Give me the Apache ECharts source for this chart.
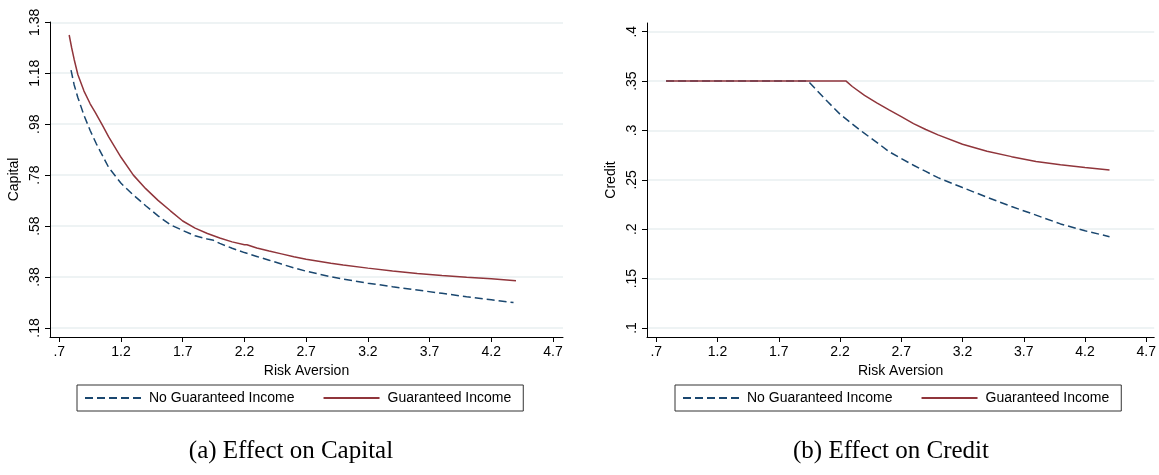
<!DOCTYPE html>
<html>
<head>
<meta charset="utf-8">
<script src="https://cdn.jsdelivr.net/npm/echarts@6/dist/echarts.min.js"></script>
<style>
  html, body { margin: 0; padding: 0; background: #fff; }
  #chart { width: 1159px; height: 475px; }
</style>
</head>
<body>
<div id="chart"></div>
<script>
// 风险厌恶 vs 资本 (a)
const capGiX = [0.78, 0.80, 0.82, 0.85, 0.90, 0.95, 0.99, 1.00, 1.05, 1.10, 1.20, 1.30, 1.40, 1.50, 1.60, 1.70, 1.80, 1.90, 2.00, 2.10, 2.20, 2.22, 2.30, 2.40, 2.50, 2.60, 2.70, 2.80, 2.90, 3.00, 3.20, 3.40, 3.60, 3.80, 4.00, 4.20, 4.40];
const capGi = [1.33, 1.28, 1.235, 1.175, 1.11, 1.06, 1.027, 1.022, 0.975, 0.93, 0.85, 0.78, 0.727, 0.681, 0.640, 0.600, 0.572, 0.551, 0.533, 0.518, 0.507, 0.507, 0.494, 0.482, 0.471, 0.460, 0.450, 0.442, 0.434, 0.427, 0.415, 0.404, 0.394, 0.386, 0.379, 0.373, 0.365];
const capNoX = [0.795, 0.82, 0.85, 0.90, 0.95, 1.00, 1.10, 1.20, 1.30, 1.40, 1.50, 1.60, 1.70, 1.80, 1.90, 1.95, 2.00, 2.10, 2.20, 2.30, 2.40, 2.50, 2.60, 2.70, 2.80, 2.90, 3.00, 3.20, 3.40, 3.60, 3.80, 4.00, 4.20, 4.38];
const capNo = [1.192, 1.135, 1.085, 1.015, 0.955, 0.903, 0.81, 0.748, 0.702, 0.660, 0.620, 0.585, 0.563, 0.542, 0.529, 0.524, 0.512, 0.493, 0.476, 0.461, 0.446, 0.431, 0.416, 0.403, 0.392, 0.381, 0.372, 0.356, 0.342, 0.329, 0.316, 0.303, 0.291, 0.280];

// 风险厌恶 vs 信贷 (b)
const credGiX = [0.78, 2.25, 2.30, 2.40, 2.50, 2.60, 2.70, 2.80, 2.90, 3.00, 3.20, 3.40, 3.60, 3.80, 4.00, 4.20, 4.40];
const credGi = [0.35, 0.35, 0.3445, 0.3355, 0.328, 0.3208, 0.314, 0.307, 0.301, 0.2955, 0.286, 0.279, 0.2735, 0.2685, 0.2652, 0.2625, 0.26];
const credNoX = [0.78, 1.94, 2.00, 2.10, 2.20, 2.30, 2.40, 2.50, 2.60, 2.70, 2.80, 2.90, 3.00, 3.20, 3.40, 3.60, 3.80, 4.00, 4.20, 4.40];
const credNo = [0.35, 0.35, 0.342, 0.329, 0.3165, 0.3065, 0.297, 0.288, 0.2786, 0.2715, 0.2648, 0.2585, 0.2522, 0.2422, 0.2324, 0.223, 0.2143, 0.2054, 0.1984, 0.1925];

// 刻度
const xTicks = [0.7, 1.2, 1.7, 2.2, 2.7, 3.2, 3.7, 4.2, 4.7];
const capTicks = [0.18, 0.38, 0.58, 0.78, 0.98, 1.18, 1.38];
const credTicks = [0.1, 0.15, 0.2, 0.25, 0.3, 0.35, 0.4];

const seriesNames = ['No Guaranteed Income', 'Guaranteed Income'];
const captions = ['(a) Effect on Capital', '(b) Effect on Credit'];

const BLUE = '#1a476f';
const RED = '#90353b';
const FONT = 'Liberation Sans, Arial, sans-serif';

function pairs(xs, ys) {
  return xs.map((x, i) => [x, ys[i]]);
}
function stataFmt(v) {
  return String(v).replace(/^0\./, '.');
}

function xAxisCfg(idx, min, max) {
  return {
    type: 'value',
    gridIndex: idx,
    min: min,
    max: max,
    name: 'Risk Aversion',
    nameLocation: 'middle',
    nameGap: 22,
    nameTextStyle: { color: '#000', fontSize: 14, fontFamily: FONT },
    axisLine: { show: true, lineStyle: { color: '#000', width: 1 } },
    axisTick: { show: true, length: 5, customValues: xTicks, lineStyle: { color: '#000' } },
    axisLabel: { customValues: xTicks, formatter: stataFmt, color: '#000', fontSize: 14, fontFamily: FONT, margin: 8 },
    splitLine: { show: false }
  };
}

function yAxisCfg(idx, min, max, ticks, name) {
  return {
    type: 'value',
    gridIndex: idx,
    min: min,
    max: max,
    name: name,
    nameLocation: 'middle',
    nameGap: 29,
    nameRotate: 90,
    nameTextStyle: { color: '#000', fontSize: 14, fontFamily: FONT },
    axisLine: { show: true, lineStyle: { color: '#000', width: 1 } },
    axisTick: { show: true, length: 5, customValues: ticks, lineStyle: { color: '#000' } },
    axisLabel: { customValues: ticks, formatter: stataFmt, rotate: 90, color: '#000', fontSize: 14, fontFamily: FONT, margin: 8 },
    splitLine: { show: true, lineStyle: { color: '#e8eff1', width: 1.5 } }
  };
}

function lineSeries(name, idx, data, color, dashed) {
  return {
    type: 'line',
    name: name,
    xAxisIndex: idx,
    yAxisIndex: idx,
    data: data,
    symbol: 'none',
    smooth: false,
    lineStyle: { color: color, width: 1.5, type: dashed ? [8, 4] : 'solid' },
    itemStyle: { color: color }
  };
}

function legendCfg(left) {
  return {
    data: seriesNames,
    left: left,
    top: 385,
    orient: 'horizontal',
    itemWidth: 56,
    itemHeight: 14,
    itemGap: 28,
    padding: [6, 12, 6, 7],
    borderColor: '#333',
    borderWidth: 1,
    itemStyle: { opacity: 0 }, // 图例里不画圆点
    textStyle: { color: '#000', fontSize: 14, fontFamily: FONT, padding: [0, 0, 0, 3] },
    selectedMode: false
  };
}

const myechart = echarts.init(document.getElementById('chart'), null, { renderer: 'canvas' });

const option = {
  animation: false,
  backgroundColor: '#fff',
  title: [
    { text: captions[0], left: 286, top: 434, textAlign: 'center',
      textStyle: { fontFamily: 'Liberation Serif, serif', fontWeight: 'normal', fontSize: 25, color: '#000' } },
    { text: captions[1], left: 886, top: 434, textAlign: 'center',
      textStyle: { fontFamily: 'Liberation Serif, serif', fontWeight: 'normal', fontSize: 25, color: '#000' } }
  ],
  legend: [legendCfg(77), legendCfg(675)],
  grid: [
    { left: 50, top: 22, width: 513, height: 315 },
    { left: 647, top: 23, width: 510, height: 314 }
  ],
  xAxis: [
    xAxisCfg(0, 0.6246, 4.781),
    xAxisCfg(1, 0.6245, 4.765)
  ],
  yAxis: [
    yAxisCfg(0, 0.1447, 1.381, capTicks, 'Capital'),
    yAxisCfg(1, 0.0909, 0.4088, credTicks, 'Credit')
  ],
  series: [
    lineSeries(seriesNames[0], 0, pairs(capNoX, capNo), BLUE, true),
    lineSeries(seriesNames[1], 0, pairs(capGiX, capGi), RED, false),
    lineSeries(seriesNames[0], 1, pairs(credNoX, credNo), BLUE, true),
    lineSeries(seriesNames[1], 1, pairs(credGiX, credGi), RED, false)
  ]
};

myechart.setOption(option);
</script>
</body>
</html>
